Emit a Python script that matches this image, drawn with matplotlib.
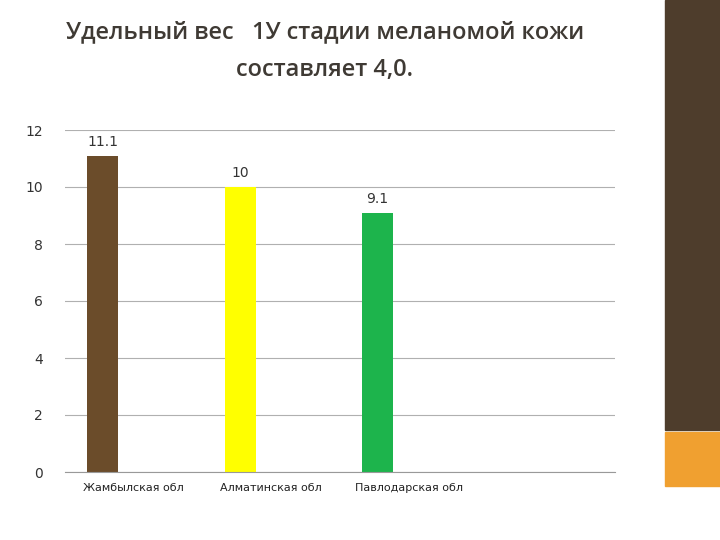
import matplotlib
matplotlib.use("Agg")
import matplotlib.pyplot as plt
from matplotlib.patches import Rectangle

categories = ["Жамбылская обл", "Алматинская обл", "Павлодарская обл"]
values = [11.1, 10, 9.1]
colors = ["#6b4c2a", "#ffff00", "#1db44c"]
yticks = [0, 2, 4, 6, 8, 10, 12]

W, H = 720, 540
fig = plt.figure(figsize=(W/100, H/100), dpi=100)
fig.patch.set_facecolor("white")

fig.patches.append(Rectangle((665/W, 1-430/H), 55/W, 430/H, transform=fig.transFigure, color="#4e3d2c"))
fig.patches.append(Rectangle((665/W, 1-486/H), 55/W, 54/H, transform=fig.transFigure, color="#f0a030"))

fig.text(325/W, 1-32/H, "Удельный вес   1У стадии меланомой кожи", ha="center", va="center",
         fontsize=17, color="#3f3a34", family="Open Sans", weight="semibold")
fig.text(325/W, 1-70/H, "составляет 4,0.", ha="center", va="center",
         fontsize=17, color="#3f3a34", family="Open Sans", weight="semibold")

ax = fig.add_axes([65/W, 1-472/H, 550/W, 342/H])
x = [i - 0.227 for i in range(len(categories))]
ax.bar(x, values, width=0.225, color=colors)
for xi, v in zip(x, values):
    ax.text(xi, v + 0.25, f"{v:g}", ha="center", va="bottom", fontsize=10, color="#333333")
ax.set_xlim(-0.5, 3.5)
ax.set_ylim(0, 12)
ax.set_yticks(yticks)
ax.set_yticklabels([str(t) for t in yticks], fontsize=10, color="#333333")
ax.set_xticks(range(len(categories)))
ax.set_xticklabels(categories, fontsize=8, color="#222222")
ax.grid(axis="y", color="#b0b0b0", linewidth=0.8)
ax.set_axisbelow(True)
for s in ["top", "right", "left"]:
    ax.spines[s].set_visible(False)
ax.spines["bottom"].set_color("#999999")
ax.tick_params(axis="y", length=0, pad=16)
ax.tick_params(axis="x", length=0, pad=8)

fig.savefig("out.png", dpi=100)
